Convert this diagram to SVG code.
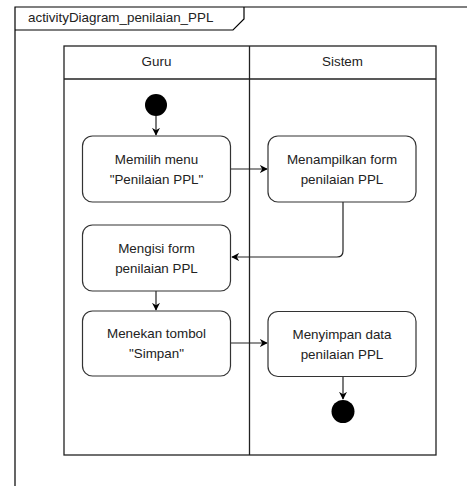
<svg xmlns="http://www.w3.org/2000/svg" width="467" height="486" viewBox="0 0 467 486">
  <style>
    .txt { font-family: "Liberation Sans", Arial, sans-serif; font-size: 13.4px; fill: #222; }
    .mid { text-anchor: middle; }
    .lane { fill: none; stroke: #222; stroke-width: 1.3; }
    .act { fill: #fff; stroke: #333; stroke-width: 1.2; }
    .edge { fill: none; stroke: #222; stroke-width: 1.2; }
    .dot { fill: #000; }
  </style>
  <defs>
    <marker id="arrow" viewBox="0 0 10 10" refX="9" refY="5" markerWidth="8" markerHeight="8" markerUnits="userSpaceOnUse" orient="auto">
      <path d="M0,0 L10,5 L0,10 L3,5 Z" fill="#000"/>
    </marker>
  </defs>
  <rect width="467" height="486" fill="#fff"/>

  <!-- frame with name tab -->
  <g id="frame">
    <path d="M15,486 V7 H467" fill="none" stroke="#000" stroke-width="1.2"/>
    <path d="M15,30 H233 L244,19 V7" fill="none" stroke="#000" stroke-width="1.2"/>
    <text class="txt" x="28" y="21.5">activityDiagram_penilaian_PPL</text>
  </g>

  <!-- swimlanes -->
  <g id="lanes">
    <rect class="lane" x="64" y="46" width="372" height="409"/>
    <line class="lane" x1="64" y1="79" x2="436" y2="79"/>
    <line class="lane" x1="249.5" y1="46" x2="249.5" y2="455"/>
    <text class="txt mid" x="156.5" y="66">Guru</text>
    <text class="txt mid" x="342.5" y="66">Sistem</text>
  </g>

  <g id="connectors">
    <line class="edge" x1="156" y1="116" x2="156" y2="135" marker-end="url(#arrow)"/>
    <line class="edge" x1="231" y1="169" x2="267" y2="169" marker-end="url(#arrow)"/>
    <path class="edge" d="M343,202 V251 Q343,257 337,257 H232" marker-end="url(#arrow)"/>
    <line class="edge" x1="156" y1="291" x2="156" y2="310" marker-end="url(#arrow)"/>
    <line class="edge" x1="231" y1="343" x2="267" y2="343" marker-end="url(#arrow)"/>
    <line class="edge" x1="343" y1="377" x2="343" y2="399" marker-end="url(#arrow)"/>
  </g>

  <g id="start">
    <circle class="dot" cx="156" cy="105" r="11"/>
  </g>

  <g id="memilih-menu">
    <rect class="act" x="82.5" y="136" width="148" height="66" rx="10"/>
    <text class="txt mid" x="156.5" y="164">Memilih menu</text>
    <text class="txt mid" x="156.5" y="184">"Penilaian PPL"</text>
  </g>

  <g id="menampilkan-form">
    <rect class="act" x="268" y="136" width="148" height="66" rx="10"/>
    <text class="txt mid" x="342" y="164">Menampilkan form</text>
    <text class="txt mid" x="342" y="184">penilaian PPL</text>
  </g>

  <g id="mengisi-form">
    <rect class="act" x="82.5" y="225" width="148" height="66" rx="10"/>
    <text class="txt mid" x="156.5" y="253">Mengisi form</text>
    <text class="txt mid" x="156.5" y="273">penilaian PPL</text>
  </g>

  <g id="menekan-tombol">
    <rect class="act" x="82.5" y="311" width="148" height="65" rx="10"/>
    <text class="txt mid" x="156.5" y="338">Menekan tombol</text>
    <text class="txt mid" x="156.5" y="358">"Simpan"</text>
  </g>

  <g id="menyimpan-data">
    <rect class="act" x="268" y="311.5" width="148" height="65" rx="10"/>
    <text class="txt mid" x="342" y="339">Menyimpan data</text>
    <text class="txt mid" x="342" y="359">penilaian PPL</text>
  </g>

  <g id="end">
    <circle class="dot" cx="343" cy="411.5" r="11.5"/>
  </g>
</svg>
